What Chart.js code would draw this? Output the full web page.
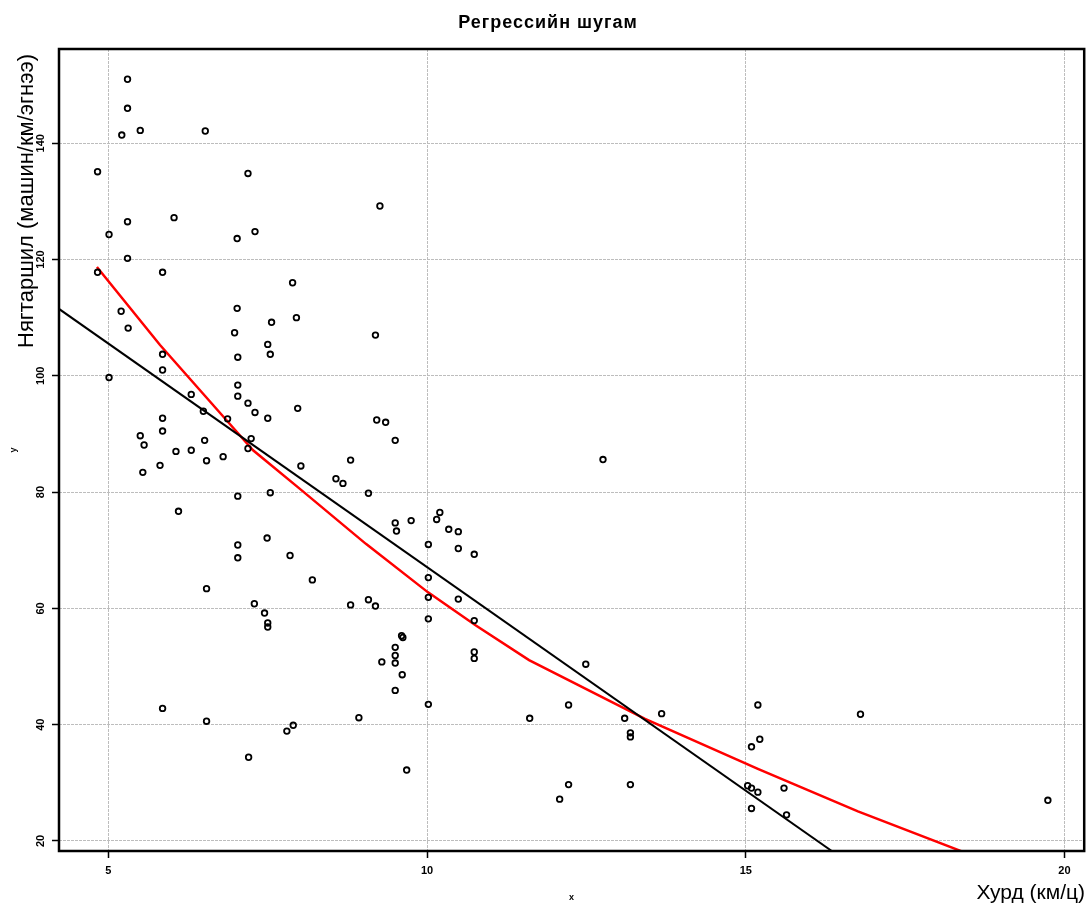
<!DOCTYPE html>
<html>
<head>
<meta charset="utf-8">
<script src="https://cdn.jsdelivr.net/npm/chart.js@4.4.0/dist/chart.umd.min.js"></script>
<style>
  body { margin: 0; background: #fff; }
  canvas { display: block; }
</style>
</head>
<body>
<canvas id="chart" width="1090" height="909"></canvas>
<script>
// хурд (км/ц) ба нягтаршил (машин/км/эгнээ)
const speed = [5.30, 5.30, 5.21, 5.50, 6.52, 4.83, 7.19, 9.26, 5.30, 6.03,
  5.01, 7.02, 7.30, 5.30, 4.83, 5.85, 7.89, 5.20, 5.31, 7.02,
  6.98, 7.56, 7.95, 7.50, 7.54, 7.03, 9.19, 5.85, 5.85, 5.01,
  7.03, 6.30, 7.03, 7.19, 6.49, 7.30, 7.97, 6.87, 5.85, 7.50,
  9.21, 9.35, 9.50, 5.50, 5.56, 5.85, 6.51, 7.24, 7.19, 6.30,
  6.06, 6.54, 6.80, 5.81, 8.02, 8.80, 5.54, 8.57, 8.68, 9.08,
  7.03, 7.54, 6.10, 9.50, 9.52, 7.49, 7.03, 7.03, 7.85, 8.20,
  12.76, 9.75, 10.15, 10.20, 10.34, 10.49, 10.02, 10.49, 10.74, 10.02,
  6.54, 7.29, 7.45, 7.50, 7.50, 8.80, 9.08, 9.19, 9.50, 9.50,
  9.50, 9.29, 9.50, 5.85, 6.54, 8.93, 7.80, 7.90, 7.20, 10.02,
  10.49, 10.02, 10.74, 9.60, 9.62, 9.61, 10.74, 10.74, 12.49, 10.02,
  12.22, 11.61, 13.10, 13.19, 13.19, 13.68, 9.68, 12.22, 12.08, 13.19,
  15.19, 15.09, 15.22, 15.03, 15.09, 15.19, 15.09, 16.80, 15.60, 15.64,
  19.74];
const density = [151.0, 146.0, 141.4, 142.2, 142.1, 135.1, 134.8, 129.2, 126.5, 127.2,
  124.3, 123.6, 124.8, 120.2, 117.8, 117.8, 116.0, 111.1, 108.2, 111.6,
  107.4, 109.2, 110.0, 105.4, 103.7, 103.2, 107.0, 103.7, 101.0, 99.7,
  98.4, 96.8, 96.5, 95.3, 93.9, 93.7, 94.4, 92.6, 92.7, 92.7,
  92.4, 92.0, 88.9, 89.7, 88.1, 90.5, 88.9, 89.2, 87.5, 87.2,
  87.0, 85.4, 86.1, 84.6, 84.5, 85.5, 83.4, 82.3, 81.5, 79.8,
  79.3, 79.9, 76.7, 74.7, 73.3, 72.1, 70.9, 68.7, 69.1, 64.9,
  85.6, 75.1, 75.3, 76.5, 73.6, 73.2, 71.0, 70.3, 69.3, 65.3,
  63.4, 60.8, 59.2, 57.5, 56.8, 60.6, 61.5, 60.4, 53.3, 51.9,
  50.6, 50.8, 45.9, 42.8, 40.6, 41.2, 38.9, 39.9, 34.4, 61.9,
  61.6, 58.2, 57.9, 55.3, 55.0, 48.6, 52.5, 51.4, 50.4, 43.5,
  43.4, 41.1, 41.1, 38.6, 37.9, 41.9, 32.2, 29.7, 27.2, 29.7,
  43.4, 36.2, 37.5, 29.5, 29.1, 28.4, 25.6, 41.8, 29.1, 24.5,
  27.0];

// шугаман регресс (зургаас уншсан төгсгөлийн цэгүүд)
const fitX = [4.225, 16.35];
const fitY = [111.5, 18.28];

// lowess муруй
const smoothX = [4.82, 5.81, 6.85, 7.27, 8.00, 9.04, 10.01, 10.76, 11.60, 13.42, 15.19, 16.76, 18.37, 19.74];
const smoothY = [118.7, 105.3, 92.4, 87.2, 80.6, 71.1, 62.8, 57.1, 51.1, 41.0, 32.4, 25.1, 18.3, 12.4];

const xTicks = [5, 10, 15, 20];
const yTicks = [20, 40, 60, 80, 100, 120, 140];

const titleText = "Регрессийн шугам";
const yLabel = "Нягтаршил (машин/км/эгнээ)";
const xLabel = "Хурд (км/ц)";

function toPoints(xs, ys) {
  return xs.map((x, i) => ({ x: x, y: ys[i] }));
}

const decor = {
  id: "decor",
  afterDraw(chart) {
    const ctx = chart.ctx;
    const a = chart.chartArea;
    const sx = chart.scales.x;
    const sy = chart.scales.y;
    ctx.save();

    // хүрээ
    ctx.strokeStyle = "#000";
    ctx.lineWidth = 2.5;
    ctx.strokeRect(a.left, a.top, a.right - a.left, a.bottom - a.top);

    ctx.fillStyle = "#000";
    ctx.textAlign = "center";
    ctx.textBaseline = "middle";

    // гарчиг
    ctx.font = "bold 18px 'Liberation Sans', Arial, sans-serif";
    ctx.letterSpacing = "1px";
    ctx.fillText(titleText, 548, 23);
    ctx.letterSpacing = "0px";

    // тэнхлэгийн тоонууд
    ctx.font = "bold 11px 'Liberation Sans', Arial, sans-serif";
    xTicks.forEach(v => {
      ctx.fillText(String(v), sx.getPixelForValue(v), 871);
    });
    yTicks.forEach(v => {
      ctx.save();
      ctx.translate(41, sy.getPixelForValue(v));
      ctx.rotate(-Math.PI / 2);
      ctx.fillText(String(v), 0, 0);
      ctx.restore();
    });

    // жижиг x, y
    ctx.font = "bold 9px 'Liberation Sans', Arial, sans-serif";
    ctx.fillText("x", (a.left + a.right) / 2, 898);
    ctx.save();
    ctx.translate(14, (a.top + a.bottom) / 2);
    ctx.rotate(-Math.PI / 2);
    ctx.fillText("y", 0, 0);
    ctx.restore();

    // том нэрүүд
    ctx.font = "21px 'Liberation Sans', Arial, sans-serif";
    ctx.textAlign = "right";
    ctx.fillText(xLabel, 1085, 893);
    ctx.save();
    ctx.translate(27, 201);
    ctx.rotate(-Math.PI / 2);
    ctx.textAlign = "center";
    ctx.font = "22px 'Liberation Sans', Arial, sans-serif";
    ctx.fillText(yLabel, 0, 0);
    ctx.restore();

    ctx.restore();
  }
};

new Chart(document.getElementById("chart"), {
  type: "scatter",
  data: {
    datasets: [
      {
        label: "цэг",
        data: toPoints(speed, density),
        pointStyle: "circle",
        pointRadius: 2.8,
        borderWidth: 1.8,
        borderColor: "#000",
        backgroundColor: "rgba(0,0,0,0)",
        showLine: false
      },
      {
        label: "регресс",
        type: "line",
        data: toPoints(fitX, fitY),
        borderColor: "#000",
        borderWidth: 2,
        pointRadius: 0,
        fill: false
      },
      {
        label: "lowess",
        type: "line",
        data: toPoints(smoothX, smoothY),
        borderColor: "#ff0000",
        borderWidth: 2.5,
        pointRadius: 0,
        fill: false,
        tension: 0
      }
    ]
  },
  options: {
    responsive: false,
    animation: false,
    layout: { padding: { left: 0, right: 4, top: 49, bottom: 0 } },
    plugins: {
      legend: { display: false },
      tooltip: { enabled: false },
      title: { display: false }
    },
    scales: {
      x: {
        type: "linear",
        min: 4.225,
        max: 20.31,
        afterFit(s) { s.height = 58; },
        ticks: { stepSize: 5, includeBounds: false, display: false },
        grid: { color: "#bdbdbd", lineWidth: 1, tickColor: "#000", tickLength: 7, tickWidth: 1.5 },
        border: { display: false, dash: [3, 1] }
      },
      y: {
        type: "linear",
        min: 18.28,
        max: 156.2,
        afterFit(s) { s.width = 59; },
        ticks: { stepSize: 20, includeBounds: false, display: false },
        grid: { color: "#bdbdbd", lineWidth: 1, tickColor: "#000", tickLength: 7, tickWidth: 1.5 },
        border: { display: false, dash: [3, 1] }
      }
    }
  },
  plugins: [decor]
});
</script>
</body>
</html>
